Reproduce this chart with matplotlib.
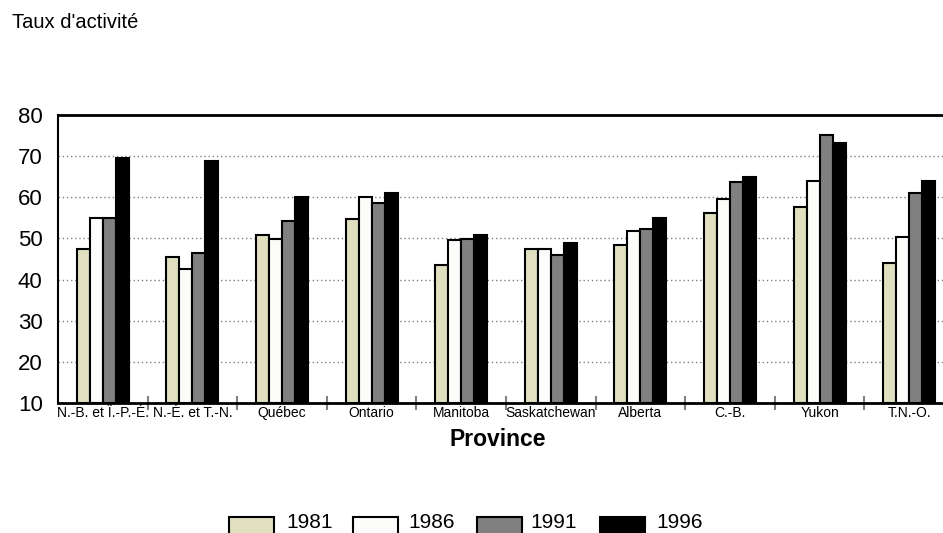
import matplotlib
matplotlib.use("Agg")
import matplotlib.pyplot as plt
import numpy as np
from matplotlib.patches import Rectangle

plt.rcParams['font.family'] = ['Liberation Sans', 'DejaVu Sans']

categories = ["N.-B. et Î.-P.-É.", "N.-É. et T.-N.", "Québec", "Ontario", "Manitoba",
              "Saskatchewan", "Alberta", "C.-B.", "Yukon", "T.N.-O."]
years = ["1981", "1986", "1991", "1996"]
v1981 = [47.4, 45.6, 50.8, 54.8, 43.6, 47.4, 48.5, 56.2, 57.6, 44.0]
v1986 = [54.9, 42.6, 49.9, 60.1, 49.5, 47.4, 51.9, 59.6, 64.0, 50.4]
v1991 = [54.9, 46.5, 54.3, 58.7, 49.9, 46.0, 52.4, 63.6, 75.2, 61.0]
v1996 = [69.5, 68.9, 60.1, 61.1, 50.9, 49.0, 54.9, 65.0, 73.3, 64.0]
series = [v1981, v1986, v1991, v1996]
colors = ["#E0E0C0", "#FCFCFA", "#808080", "#000000"]

W, H = 943, 533
fig = plt.figure(figsize=(W/100, H/100), dpi=100)
left, right, top, bottom = 58, 954, 115, 403
ax = fig.add_axes([left/W, 1-bottom/H, (right-left)/W, (bottom-top)/H])

base = 10
x = np.arange(len(categories))
bw = 0.145
for i, (vals, c) in enumerate(zip(series, colors)):
    heights = [v - base for v in vals]
    ax.bar(x + (i - 1.5)*bw, heights, bw, bottom=base, color=c, edgecolor="black",
           linewidth=1.5, zorder=3, label=years[i])

ax.set_xlim(-0.5, len(categories) - 0.5)
ax.set_ylim(10, 80)
ax.set_yticks(range(10, 81, 10))
ax.tick_params(axis='y', length=0, labelsize=16, pad=11)
for y in range(20, 80, 10):
    ax.axhline(y, color="#808080", linestyle=(0, (1, 2)), linewidth=1.0, zorder=1)

ax.set_xticks(x)
ax.set_xticklabels(categories, fontsize=10)
ax.tick_params(axis='x', length=0, pad=2)
ax.set_xticks(np.arange(0.5, len(categories) - 0.5, 1), minor=True)
ax.tick_params(axis='x', which='minor', length=10, direction='inout', color="#808080", width=1.5)

for s in ["bottom", "top"]:
    ax.spines[s].set_linewidth(2)
ax.spines["left"].set_linewidth(1.5)
ax.spines["right"].set_visible(False)

fig.text(498/W, 1-440/H, "Province", ha="center", va="center", fontsize=16.5, fontweight="bold")
fig.text(12/W, 1-28/H, "Taux d'activité", ha="left", va="baseline", fontsize=14.5)

# legend drawn in figure pixels
hx = [229, 353, 477, 600]
tx = [286, 408, 530, 656]
for i in range(4):
    fig.add_artist(Rectangle((hx[i]/W, 1-545/H), 45/W, 28/H, transform=fig.transFigure,
                             facecolor=colors[i], edgecolor="black", linewidth=1.5))
    fig.text(tx[i]/W, 1-528/H, years[i], ha="left", va="baseline", fontsize=15)

fig.savefig("out.png", dpi=100)
